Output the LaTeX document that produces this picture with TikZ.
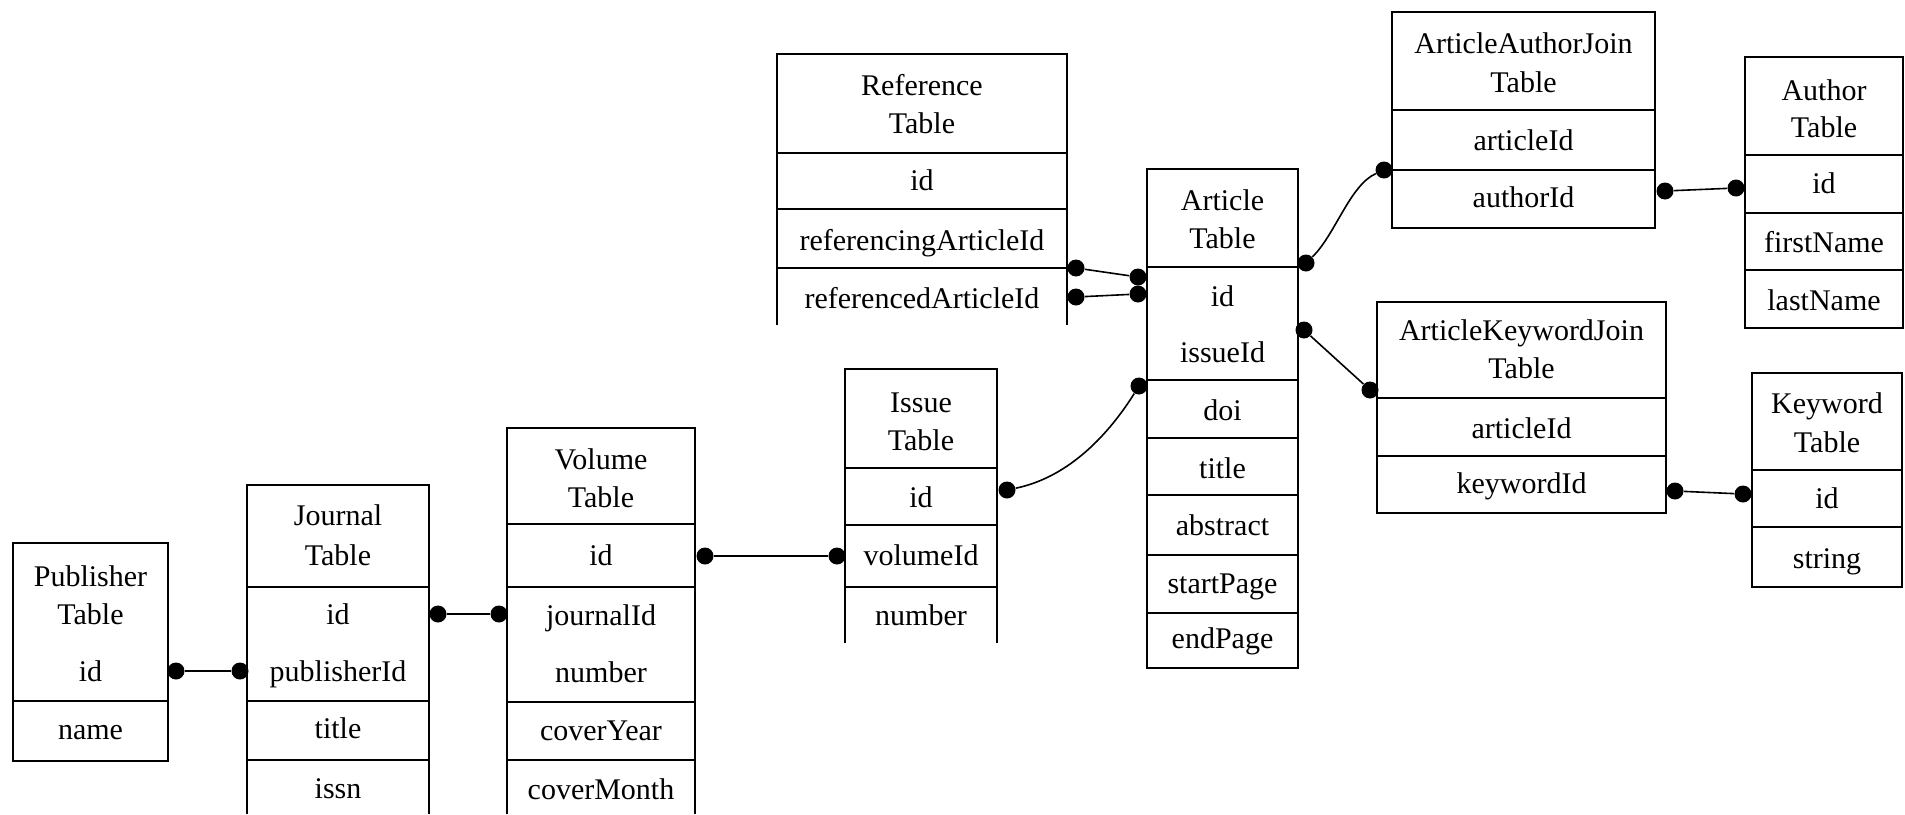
\documentclass[tikz,border=0pt]{standalone}
\usepackage{fontspec}
\setmainfont{Liberation Serif}
\begin{document}
\begin{tikzpicture}[x=0.5pt,y=-0.5pt,
  frame/.style={line width=0.9pt},
  sep/.style={line width=0.75pt},
  lbl/.style={anchor=base,inner sep=0pt,font=\fontsize{15}{18}\selectfont},
  dot/.style={circle,fill=black,inner sep=0pt,minimum size=8.5pt},
  conn/.style={line width=0.8pt}]
\useasboundingbox (0,0) rectangle (1905,814);

% ---------- Publisher ----------
\draw[frame] (13,543) rectangle (168,761);
\draw[sep] (13,701) -- (168,701);
\node[lbl] (pubH1) at (90.5,586) {Publisher};
\node[lbl] (pubH2) at (90.5,624) {Table};
\node[lbl] (pubId) at (90.5,681) {id};
\node[lbl] (pubName) at (90.5,739) {name};

% ---------- Journal ----------
\draw[frame] (247,814) -- (247,485) -- (429,485) -- (429,814);
\draw[sep] (247,587) -- (429,587) (247,701) -- (429,701) (247,760) -- (429,760);
\node[lbl] (jrnH1) at (338,525) {Journal};
\node[lbl] (jrnH2) at (338,565) {Table};
\node[lbl] (jrnId) at (338,624) {id};
\node[lbl] (jrnPub) at (338,681) {publisherId};
\node[lbl] (jrnTitle) at (338,738) {title};
\node[lbl] (jrnIssn) at (338,798) {issn};

% ---------- Volume ----------
\draw[frame] (507,814) -- (507,428) -- (695,428) -- (695,814);
\draw[sep] (507,524) -- (695,524) (507,587) -- (695,587) (507,702) -- (695,702) (507,760) -- (695,760);
\node[lbl] (volH1) at (601,469) {Volume};
\node[lbl] (volH2) at (601,507) {Table};
\node[lbl] (volId) at (601,565) {id};
\node[lbl] (volJrn) at (601,625) {journalId};
\node[lbl] (volNum) at (601,682) {number};
\node[lbl] (volYear) at (601,740) {coverYear};
\node[lbl] (volMonth) at (601,799) {coverMonth};

% ---------- Issue ----------
\draw[frame] (845,643) -- (845,369) -- (997,369) -- (997,643);
\draw[sep] (845,468) -- (997,468) (845,525) -- (997,525) (845,587) -- (997,587);
\node[lbl] (issH1) at (921,412) {Issue};
\node[lbl] (issH2) at (921,450) {Table};
\node[lbl] (issId) at (921,507) {id};
\node[lbl] (issVol) at (921,565) {volumeId};
\node[lbl] (issNum) at (921,625) {number};

% ---------- Reference ----------
\draw[frame] (777,325) -- (777,54) -- (1067,54) -- (1067,325);
\draw[sep] (777,153) -- (1067,153) (777,209) -- (1067,209) (777,268) -- (1067,268);
\node[lbl] (refH1) at (922,95) {Reference};
\node[lbl] (refH2) at (922,133) {Table};
\node[lbl] (refId) at (922,190) {id};
\node[lbl] (refIng) at (922,250) {referencingArticleId};
\node[lbl] (refEd) at (922,308) {referencedArticleId};

% ---------- Article ----------
\draw[frame] (1147,169) rectangle (1298,668);
\draw[sep] (1147,267) -- (1298,267) (1147,380) -- (1298,380) (1147,438) -- (1298,438)
           (1147,495) -- (1298,495) (1147,555) -- (1298,555) (1147,613) -- (1298,613);
\node[lbl] (artH1) at (1222.5,210) {Article};
\node[lbl] (artH2) at (1222.5,248) {Table};
\node[lbl] (artId) at (1222.5,306) {id};
\node[lbl] (artIss) at (1222.5,362) {issueId};
\node[lbl] (artDoi) at (1222.5,420) {doi};
\node[lbl] (artTitle) at (1222.5,478) {title};
\node[lbl] (artAbs) at (1222.5,535) {abstract};
\node[lbl] (artStart) at (1222.5,593) {startPage};
\node[lbl] (artEnd) at (1222.5,648) {endPage};

% ---------- ArticleAuthorJoin ----------
\draw[frame] (1392,12) rectangle (1655,228);
\draw[sep] (1392,110) -- (1655,110) (1392,170) -- (1655,170);
\node[lbl] (aajH1) at (1523.5,53) {ArticleAuthorJoin};
\node[lbl] (aajH2) at (1523.5,92) {Table};
\node[lbl] (aajArt) at (1523.5,150) {articleId};
\node[lbl] (aajAuth) at (1523.5,207) {authorId};

% ---------- Author ----------
\draw[frame] (1745,57) rectangle (1903,328);
\draw[sep] (1745,155) -- (1903,155) (1745,213) -- (1903,213) (1745,270) -- (1903,270);
\node[lbl] (autH1) at (1824,100) {Author};
\node[lbl] (autH2) at (1824,137) {Table};
\node[lbl] (autId) at (1824,193) {id};
\node[lbl] (autFirst) at (1824,252) {firstName};
\node[lbl] (autLast) at (1824,310) {lastName};

% ---------- ArticleKeywordJoin ----------
\draw[frame] (1377,302) rectangle (1666,513);
\draw[sep] (1377,398) -- (1666,398) (1377,456) -- (1666,456);
\node[lbl] (akjH1) at (1521.5,340) {ArticleKeywordJoin};
\node[lbl] (akjH2) at (1521.5,378) {Table};
\node[lbl] (akjArt) at (1521.5,438) {articleId};
\node[lbl] (akjKw) at (1521.5,493) {keywordId};

% ---------- Keyword ----------
\draw[frame] (1752,373) rectangle (1902,587);
\draw[sep] (1752,470) -- (1902,470) (1752,527) -- (1902,527);
\node[lbl] (kwH1) at (1827,413) {Keyword};
\node[lbl] (kwH2) at (1827,452) {Table};
\node[lbl] (kwId) at (1827,508) {id};
\node[lbl] (kwStr) at (1827,568) {string};

% ---------- dots ----------
\node[dot] (pubD) at (176,671) {};
\node[dot] (jrnPubD) at (240,671) {};
\node[dot] (jrnIdD) at (438,614) {};
\node[dot] (volJD) at (499,614) {};
\node[dot] (volIdD) at (705,556) {};
\node[dot] (issVD) at (837,556) {};
\node[dot] (issIdD) at (1007,490) {};
\node[dot] (artIssD) at (1139,386) {};
\node[dot] (refIngD) at (1076,268) {};
\node[dot] (artRefA) at (1138,277) {};
\node[dot] (refEdD) at (1076,297) {};
\node[dot] (artRefB) at (1138,294) {};
\node[dot] (artIdA) at (1306,263) {};
\node[dot] (aajArtD) at (1384,170) {};
\node[dot] (artIdB) at (1304,330) {};
\node[dot] (akjArtD) at (1370,390) {};
\node[dot] (aajAuthD) at (1665,191) {};
\node[dot] (autIdD) at (1736,188) {};
\node[dot] (akjKwD) at (1675,491) {};
\node[dot] (kwIdD) at (1743,494) {};

% ---------- connectors ----------
\draw[conn] (pubD) -- (jrnPubD);
\draw[conn] (jrnIdD) -- (volJD);
\draw[conn] (volIdD) -- (issVD);
\draw[conn] (issIdD) .. controls (1065,478) and (1105,440) .. (artIssD);
\draw[conn] (refIngD) -- (artRefA);
\draw[conn] (refEdD) -- (artRefB);
\draw[conn] (artIdA) .. controls (1335,235) and (1350,185) .. (aajArtD);
\draw[conn] (artIdB) -- (akjArtD);
\draw[conn] (aajAuthD) -- (autIdD);
\draw[conn] (akjKwD) -- (kwIdD);
\end{tikzpicture}
\end{document}
